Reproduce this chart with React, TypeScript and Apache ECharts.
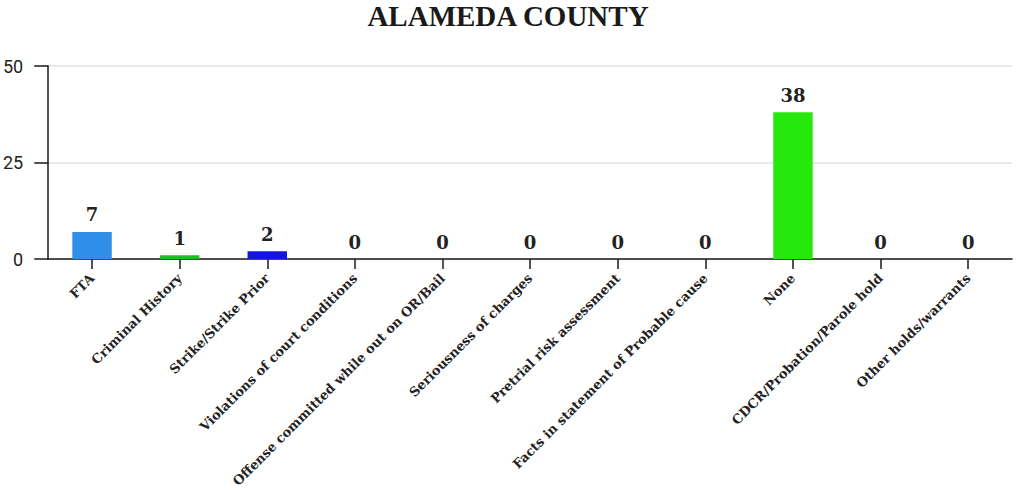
import React, { useEffect, useRef } from "react";
import * as echarts from "echarts";

const titleText = "ALAMEDA COUNTY";
const categories = [
  "FTA",
  "Criminal History",
  "Strike/Strike Prior",
  "Violations of court conditions",
  "Offense committed while out on OR/Bail",
  "Seriousness of charges",
  "Pretrial risk assessment",
  "Facts in statement of Probable cause",
  "None",
  "CDCR/Probation/Parole hold",
  "Other holds/warrants",
];
const counts = [7, 1, 2, 0, 0, 0, 0, 0, 38, 0, 0];
const barColors = [
  "#2e8ee8",
  "#19c219",
  "#1515dd",
  "#888888",
  "#888888",
  "#888888",
  "#888888",
  "#888888",
  "#27e80c",
  "#888888",
  "#888888",
];
const yTicks = { min: 0, max: 50, interval: 25 };

const serifBold = "'DejaVu Serif', 'Liberation Serif', serif";

export default function App() {
  const ref = useRef<HTMLDivElement>(null);

  useEffect(() => {
    if (!ref.current) return;
    const chart = echarts.init(ref.current, undefined, { renderer: "svg" });
    chart.setOption({
      animation: false,
      backgroundColor: "#ffffff",
      title: {
        text: titleText,
        left: "center",
        top: 1,
        padding: 0,
        textStyle: {
          fontFamily: "'Liberation Serif', serif",
          fontWeight: "bold",
          fontSize: 29,
          color: "#1a1a1a",
        },
      },
      grid: { left: 46, right: 4, top: 66, bottom: 233, containLabel: false },
      xAxis: {
        type: "category",
        data: categories,
        axisLine: { show: true, lineStyle: { color: "#1a1a1a", width: 1.5 } },
        axisTick: { show: true, alignWithLabel: true, length: 10, lineStyle: { color: "#1a1a1a", width: 1.5 } },
        axisLabel: {
          interval: 0,
          rotate: 45,
          margin: 17,
          fontFamily: serifBold,
          fontWeight: "bold",
          fontSize: 13,
          color: "#222",
        },
      },
      yAxis: {
        type: "value",
        min: yTicks.min,
        max: yTicks.max,
        interval: yTicks.interval,
        axisLine: { show: true, lineStyle: { color: "#1a1a1a", width: 1.5 } },
        axisTick: { show: true, length: 14, lineStyle: { color: "#1a1a1a", width: 1.5 } },
        axisLabel: {
          margin: 25,
          fontFamily: "Roboto, 'Liberation Sans', sans-serif",
          fontSize: 18,
          color: "#222",
        },
        splitLine: { show: true, lineStyle: { color: "#e2e2e2", width: 1.5 } },
      },
      series: [
        {
          type: "bar",
          data: counts.map((v, i) => ({ value: v, itemStyle: { color: barColors[i] } })),
          barWidth: "45%",
          label: {
            show: true,
            position: "top",
            distance: 8,
            fontFamily: serifBold,
            fontWeight: "bold",
            fontSize: 18,
            color: "#222",
          },
        },
      ],
    });
    return () => chart.dispose();
  }, []);

  return (
    <div
      ref={ref}
      style={{ position: "absolute", left: 0, top: 0, width: 1016, height: 492 }}
    />
  );
}
